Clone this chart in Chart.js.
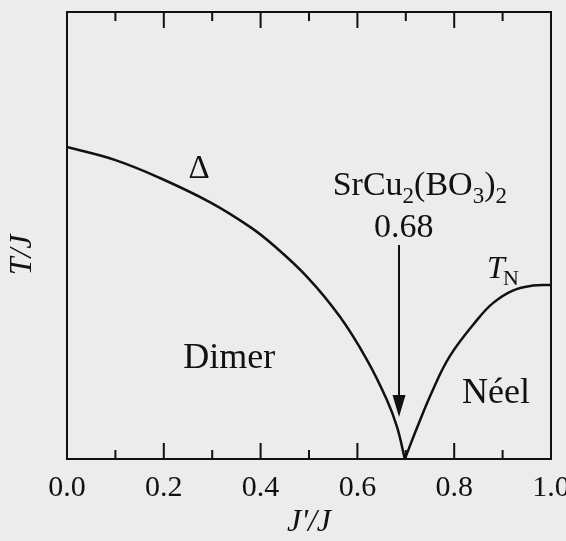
<!DOCTYPE html>
<html>
<head>
<meta charset="utf-8">
<script src="https://cdn.jsdelivr.net/npm/chart.js@4"></script>
<style>
  html, body { margin: 0; padding: 0; background: #ececec; }
  canvas { display: block; }
</style>
</head>
<body>
<canvas id="phase" width="566" height="541"></canvas>
<script>
  // dimer gap line, falls to zero near J'/J = 0.7
  const dimerX = [0, 0.1, 0.192, 0.295, 0.378, 0.426, 0.496, 0.564, 0.620, 0.661, 0.682, 0.698];
  const dimerY = [1.047, 1.003, 0.943, 0.862, 0.779, 0.718, 0.611, 0.477, 0.332, 0.198, 0.107, 0];

  // Neel temperature line
  const neelX = [0.698, 0.723, 0.754, 0.791, 0.847, 0.880, 0.921, 0.963, 1.0];
  const neelY = [0, 0.104, 0.225, 0.345, 0.466, 0.523, 0.565, 0.582, 0.584];

  const majorTicks = [0, 0.2, 0.4, 0.6, 0.8, 1.0];
  const minorTicks = [0.1, 0.3, 0.5, 0.7, 0.9];

  // arrow marking SrCu2(BO3)2
  const arrowX = 0.686;
  const arrowFrom = 0.718;
  const arrowTo = 0.141;

  const serif = "'Liberation Serif', 'DejaVu Serif', serif";
  const ink = '#111';

  const toPts = (xs, ys) => xs.map((v, i) => ({ x: v, y: ys[i] }));

  const frame = {
    id: 'frame',
    beforeDraw(chart) {
      const c = chart.ctx;
      c.save();
      c.fillStyle = '#ececec';
      c.fillRect(0, 0, chart.width, chart.height);
      c.restore();
    },
    afterDatasetsDraw(chart) {
      const c = chart.ctx;
      const a = chart.chartArea;
      const x = chart.scales.x, y = chart.scales.y;
      c.save();
      c.strokeStyle = ink;
      c.lineWidth = 2;
      c.strokeRect(a.left, a.top, a.right - a.left, a.bottom - a.top);

      // inward ticks top and bottom
      c.beginPath();
      majorTicks.forEach(v => {
        const px = x.getPixelForValue(v);
        c.moveTo(px, a.bottom); c.lineTo(px, a.bottom - 16);
        c.moveTo(px, a.top); c.lineTo(px, a.top + 16);
      });
      minorTicks.forEach(v => {
        const px = x.getPixelForValue(v);
        c.moveTo(px, a.bottom); c.lineTo(px, a.bottom - 9);
        c.moveTo(px, a.top); c.lineTo(px, a.top + 9);
      });
      c.stroke();

      // arrow
      const ax = x.getPixelForValue(arrowX);
      const y1 = y.getPixelForValue(arrowFrom);
      const y2 = y.getPixelForValue(arrowTo);
      c.beginPath();
      c.moveTo(ax, y1); c.lineTo(ax, y2 - 18);
      c.stroke();
      c.fillStyle = ink;
      c.beginPath();
      c.moveTo(ax - 6.5, y2 - 22);
      c.lineTo(ax + 6.5, y2 - 22);
      c.lineTo(ax, y2);
      c.closePath();
      c.fill();

      // labels
      c.fillStyle = ink;
      c.font = '33px ' + serif;
      c.textAlign = 'center';
      c.textBaseline = 'middle';
      c.fillText('\u0394', x.getPixelForValue(0.273), y.getPixelForValue(0.973));
      c.textBaseline = 'alphabetic';

      // SrCu2(BO3)2 with subscripts
      const parts = [['SrCu', 0], ['2', 1], ['(BO', 0], ['3', 1], [')', 0], ['2', 1]];
      const big = '34px ' + serif, small = '23px ' + serif;
      let total = 0;
      parts.forEach(p => { c.font = p[1] ? small : big; total += c.measureText(p[0]).width; });
      let cx = x.getPixelForValue(0.729) - total / 2;
      const by = y.getPixelForValue(0.886);
      c.textAlign = 'left';
      parts.forEach(p => {
        c.font = p[1] ? small : big;
        c.fillText(p[0], cx, by + (p[1] ? 8 : 0));
        cx += c.measureText(p[0]).width;
      });

      c.font = big;
      c.textAlign = 'center';
      c.fillText('0.68', x.getPixelForValue(0.696), y.getPixelForValue(0.745));

      // T_N
      c.textAlign = 'left';
      c.font = 'italic 32px ' + serif;
      const tx = x.getPixelForValue(0.868), ty = y.getPixelForValue(0.607);
      c.fillText('T', tx, ty);
      const tw = c.measureText('T').width;
      c.font = '22px ' + serif;
      c.fillText('N', tx + tw - 2, ty + 7);

      c.font = '36px ' + serif;
      c.fillText('Dimer', x.getPixelForValue(0.240), y.getPixelForValue(0.305));
      c.fillText('N\u00e9el', x.getPixelForValue(0.816), y.getPixelForValue(0.188));

      // y title
      c.save();
      c.translate(a.left - 44, y.getPixelForValue(0.685));
      c.rotate(-Math.PI / 2);
      c.textAlign = 'center';
      c.textBaseline = 'middle';
      c.font = 'italic 32px ' + serif;
      c.fillText('T/J', 0, 0);
      c.restore();

      c.restore();
    }
  };

  const data = {
    datasets: [
      {
        data: toPts(dimerX, dimerY),
        borderColor: ink,
        borderWidth: 2.5,
        pointRadius: 0,
        tension: 0.4,
        fill: false
      },
      {
        data: toPts(neelX, neelY),
        borderColor: ink,
        borderWidth: 2.5,
        pointRadius: 0,
        tension: 0.4,
        fill: false
      }
    ]
  };

  const config = {
    type: 'line',
    data: data,
    options: {
      responsive: false,
      devicePixelRatio: 1,
      animation: false,
      layout: { padding: { left: 67, right: 15, top: 12, bottom: 2 } },
      plugins: {
        legend: { display: false },
        tooltip: { enabled: false }
      },
      scales: {
        x: {
          type: 'linear',
          min: 0,
          max: 1,
          grid: { display: false, drawTicks: false },
          border: { display: false },
          afterFit: scale => {
            scale.paddingLeft = 0;
            scale.paddingRight = 0;
            scale.height = 80;
          },
          ticks: {
            stepSize: 0.2,
            padding: 14,
            color: ink,
            maxRotation: 0,
            font: { family: serif, size: 30, lineHeight: 1 },
            callback: v => v.toFixed(1)
          },
          title: {
            display: true,
            text: "J'/J",
            color: ink,
            padding: { top: 4, bottom: 0 },
            font: { family: serif, size: 32, style: 'italic', lineHeight: 1 }
          }
        },
        y: {
          display: false,
          min: 0,
          max: 1.5
        }
      }
    },
    plugins: [frame]
  };

  const phaseChart = new Chart(document.getElementById('phase'), config);
</script>
</body>
</html>
